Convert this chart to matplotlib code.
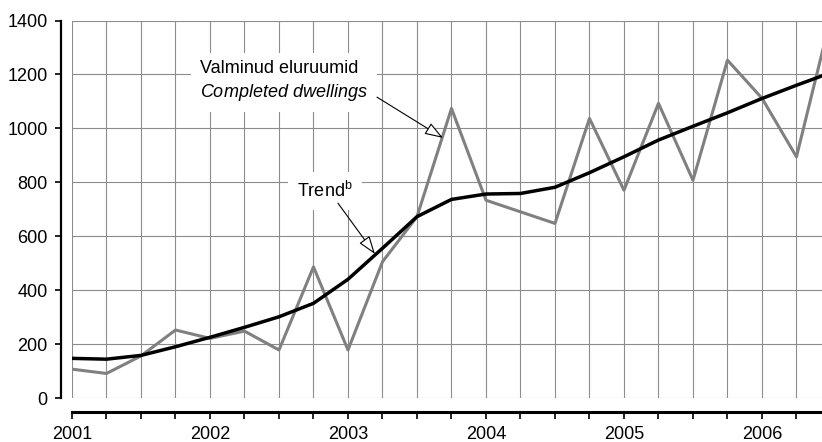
import matplotlib
matplotlib.use("Agg")
from matplotlib import pyplot as plt

# kvartalid 2001 I - 2006 III
years = [2001, 2002, 2003, 2004, 2005, 2006]
quarters = [f"{y} {q}" for y in years for q in ("I", "II", "III", "IV")][:23]

# valminud eluruumid / completed dwellings
dwellings = [108, 92, 157, 253, 222, 249, 179, 487, 179, 506, 673, 1074,
             734, 691, 648, 1037, 771, 1093, 808, 1253, 1112, 895, 1414]
# trend
trend = [148, 145, 159, 191, 226, 263, 302, 352, 441, 556, 673, 737,
         757, 759, 782, 836, 895, 957, 1008, 1058, 1111, 1160, 1207]

yticks = [0, 200, 400, 600, 800, 1000, 1200, 1400]

plt.rcParams['font.family'] = ['Liberation Sans', 'DejaVu Sans']
plt.rcParams['mathtext.fontset'] = 'custom'
plt.rcParams['mathtext.rm'] = 'Liberation Sans'
plt.rcParams['mathtext.it'] = 'Liberation Sans:italic'

fig = plt.figure(figsize=(8.22, 4.42), dpi=100)
ax = fig.add_axes([72 / 822, 1 - 398.3 / 442, 1 - 72 / 822, (398.3 - 20.5) / 442])

x = list(range(len(quarters)))
ax.plot(x, dwellings, color='#808080', lw=2.2, zorder=4)
ax.plot(x, trend, color='black', lw=2.5, zorder=5)

ax.set_xticks(x)
ax.set_xticklabels([q.split()[0] if q.endswith(" I") else "" for q in quarters])
ax.set_yticks(yticks)
ax.set_yticklabels([str(v) for v in yticks])

# piirid pärast tickide seadmist, muidu laienevad
ax.set_xlim(0, 21.74)
ax.set_ylim(0, 1400)

ax.grid(True, color='#8c8c8c', lw=0.8, zorder=0)
ax.set_axisbelow(True)

for side in ('top', 'right'):
    ax.spines[side].set_visible(False)
ax.spines['left'].set_position(('outward', 8))
ax.spines['bottom'].set_position(('outward', 10))
ax.spines['left'].set_linewidth(1.6)
ax.spines['bottom'].set_linewidth(2.2)

ax.tick_params(axis='x', direction='out', length=5, width=1.2, pad=5, labelsize=13)
ax.tick_params(axis='y', direction='out', length=4.5, width=1.2, pad=5, labelsize=13)

# annotatsioonid
ax.text(3.71, 1174, "Valminud eluruumid\n" + r"$\mathit{Completed\ dwellings}$",
        ha='left', va='center', fontsize=13, linespacing=1.35, zorder=6,
        bbox=dict(boxstyle='square,pad=0.5', fc='white', ec='none'))
ax.annotate('', xy=(10.75, 965), xytext=(8.84, 1116), zorder=7,
            arrowprops=dict(arrowstyle='-|>,head_length=0.8,head_width=0.28',
                            mutation_scale=14, fc='white', ec='black', lw=0.8,
                            shrinkA=0, shrinkB=0))

ax.text(6.52, 768, r"Trend$^{\mathrm{b}}$", ha='left', va='center', fontsize=13,
        zorder=6, bbox=dict(boxstyle='square,pad=0.5', fc='white', ec='none'))
ax.annotate('', xy=(8.78, 535), xytext=(7.71, 723), zorder=7,
            arrowprops=dict(arrowstyle='-|>,head_length=0.8,head_width=0.28',
                            mutation_scale=14, fc='white', ec='black', lw=0.8,
                            shrinkA=0, shrinkB=0))

fig.savefig("out.png", dpi=100)
